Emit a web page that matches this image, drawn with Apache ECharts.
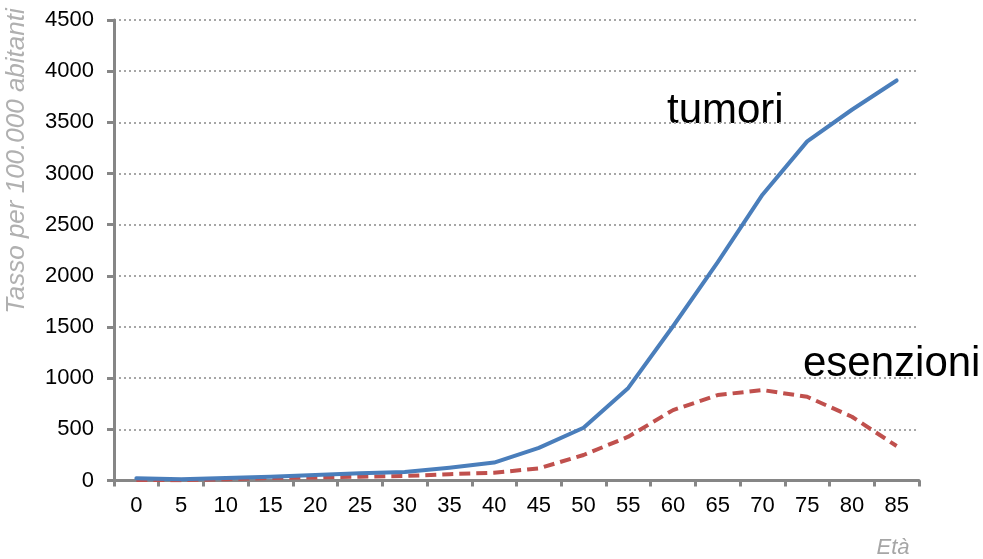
<!DOCTYPE html>
<html>
<head>
<meta charset="utf-8">
<script src="https://cdn.jsdelivr.net/npm/echarts@6/dist/echarts.min.js"></script>
<style>
  html, body { margin: 0; padding: 0; background: #fff; }
  #chart { width: 983px; height: 559px; }
</style>
</head>
<body>
<div id="chart"></div>
<script>
// Age classes (years)
const ages = ['0', '5', '10', '15', '20', '25', '30', '35', '40', '45', '50', '55', '60', '65', '70', '75', '80', '85'];
// Rate per 100,000 inhabitants
const tumori = [21, 12, 24, 37, 54, 70, 83, 125, 175, 319, 515, 905, 1507, 2135, 2793, 3314, 3623, 3909];
const esenzioni = [5, 3, 12, 25, 30, 37, 44, 62, 75, 119, 249, 428, 688, 835, 884, 818, 623, 337];
const yTicks = [0, 500, 1000, 1500, 2000, 2500, 3000, 3500, 4000, 4500];

const font = '"Liberation Sans", Arial, sans-serif';
const chart = echarts.init(document.getElementById('chart'));

chart.setOption({
  animation: false,
  backgroundColor: '#ffffff',
  grid: { left: 114, right: 64, top: 20, bottom: 78.5, containLabel: false },
  xAxis: {
    type: 'category',
    data: ages,
    boundaryGap: true,
    axisLine: { lineStyle: { color: '#868686', width: 3 } },
    axisTick: { show: true, length: 6, lineStyle: { color: '#868686', width: 3 } },
    axisLabel: { color: '#000', fontSize: 22, fontFamily: font, margin: 14 },
    splitLine: { show: false }
  },
  yAxis: {
    type: 'value',
    min: yTicks[0],
    max: yTicks[yTicks.length - 1],
    interval: 500,
    axisLine: { show: true, lineStyle: { color: '#868686', width: 3 } },
    axisTick: { show: true, length: 7, lineStyle: { color: '#868686', width: 3 } },
    axisLabel: {
      color: '#000', fontSize: 22, fontFamily: font, margin: 20,
      formatter: (v) => String(v)
    },
    splitLine: { show: true, lineStyle: { color: '#a6a6a6', width: 2, type: [2, 3] } }
  },
  series: [
    {
      name: 'tumori',
      type: 'line',
      data: tumori,
      showSymbol: false,
      symbol: 'none',
      lineStyle: { color: '#4a7ebb', width: 4, cap: 'round', join: 'round' },
      z: 3
    },
    {
      name: 'esenzioni',
      type: 'line',
      data: esenzioni,
      showSymbol: false,
      symbol: 'none',
      lineStyle: { color: '#c0504d', width: 4, type: [11, 6], join: 'round' },
      z: 2
    }
  ],
  graphic: [
    {
      type: 'text', left: 667, top: 90,
      style: { text: 'tumori', fill: '#000', font: '42px ' + font }
    },
    {
      type: 'text', left: 803, top: 343,
      style: { text: 'esenzioni', fill: '#000', font: '42px ' + font }
    },
    {
      type: 'text', x: 17, y: 161, rotation: Math.PI / 2,
      style: {
        text: 'Tasso per 100.000 abitanti', fill: '#b0b0b0',
        font: 'italic 26px ' + font, align: 'center', verticalAlign: 'middle'
      }
    },
    {
      type: 'text', x: 893, y: 548,
      style: {
        text: 'Età', fill: '#a6a6a6',
        font: 'italic 22px ' + font, align: 'center', verticalAlign: 'middle'
      }
    }
  ]
});
</script>
</body>
</html>
